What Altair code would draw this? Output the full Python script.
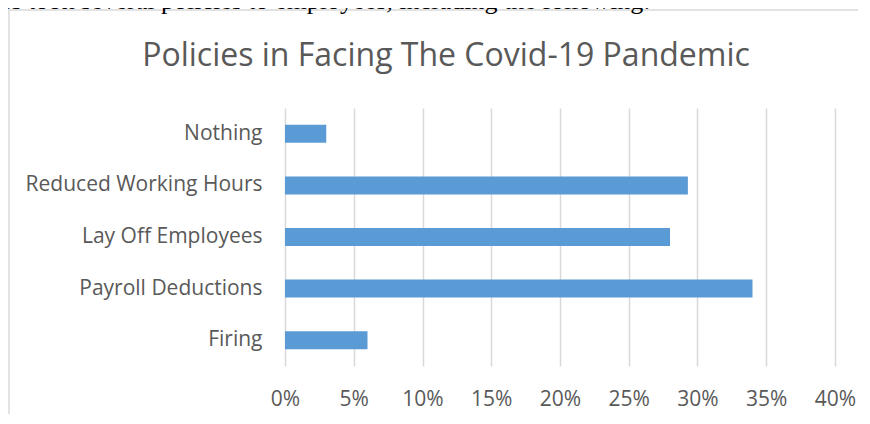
import altair as alt
import pandas as pd

categories = ["Nothing", "Reduced Working Hours", "Lay Off Employees", "Payroll Deductions", "Firing"]
shares = [0.03, 0.293, 0.28, 0.34, 0.06]
tick_values = [0, 0.05, 0.10, 0.15, 0.20, 0.25, 0.30, 0.35, 0.40]
title_text = "Policies in Facing The Covid-19 Pandemic"
top_sentence = "es took several policies to employees, including the following:"

df = pd.DataFrame({"policy": categories, "share": shares})

TEXT = "#595959"
GRID = "#d9d9d9"
BAR = "#5B9BD5"

bars = alt.Chart(df).mark_bar(color=BAR).encode(
    y=alt.Y("policy:N", sort=categories,
            scale=alt.Scale(paddingInner=0.651, paddingOuter=0.3255),
            axis=alt.Axis(title=None, ticks=False, domain=False, grid=False,
                          labelFont="Open Sans", labelFontSize=21, labelColor=TEXT,
                          labelPadding=23, labelLimit=400)),
    x=alt.X("share:Q", scale=alt.Scale(domain=[0, 0.4], nice=False),
            axis=alt.Axis(title=None, values=tick_values, format=".0%", ticks=False,
                          domain=False, grid=True, gridColor=GRID, gridWidth=1.5,
                          labelFont="Open Sans", labelFontSize=21, labelColor=TEXT,
                          labelPadding=22, labelFlush=False, labelOverlap=False)),
)

one = pd.DataFrame({"t": [title_text], "s": [top_sentence]})

title = alt.Chart(one).mark_text(
    font="Open Sans", fontSize=32, color=TEXT, align="center", baseline="alphabetic"
).encode(x=alt.value(161), y=alt.value(-42), text="t:N")

sentence = alt.Chart(one).mark_text(
    font="Liberation Serif", fontSize=26, color="#000000", align="left", baseline="alphabetic"
).encode(x=alt.value(-285), y=alt.value(-99), text="s:N")

border = alt.Chart(one).mark_rect(filled=False, stroke=GRID, strokeWidth=1.5).encode(
    x=alt.value(-276), x2=alt.value(700), y=alt.value(-98), y2=alt.value(500)
)

chart = alt.layer(border, bars, title, sentence).properties(
    width=550, height=258,
    padding={"left": 277, "top": 100, "right": 23, "bottom": 48},
    autosize=alt.AutoSizeParams(type="none"),
).configure_view(strokeWidth=0)

chart.save("out.html", embed_options={"renderer": "svg", "actions": False})
